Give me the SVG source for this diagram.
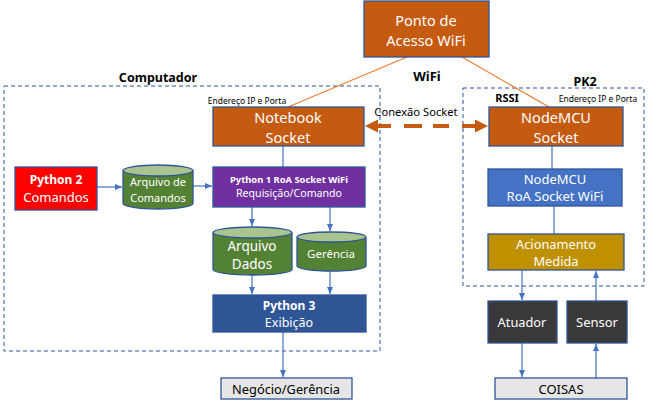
<svg xmlns="http://www.w3.org/2000/svg" width="648" height="404" viewBox="0 0 648 404">
<style>
text{font-family:"Noto Sans","Open Sans","DejaVu Sans",sans-serif;text-anchor:middle;dominant-baseline:central}
.w{fill:#fff}
.k{fill:#000}
.b{font-weight:bold}
.box{stroke:#2F5597;stroke-width:1.3}
.dash{fill:none;stroke:#2F5597;stroke-width:1;stroke-dasharray:4 3}
.conn{fill:none;stroke:#4472C4;stroke-width:1.2}
.ol{fill:none;stroke:#ED7D31;stroke-width:1.2}
.od{stroke:#C55A11;stroke-width:4}
</style>
<defs>
<marker id="ah" markerWidth="8" markerHeight="8" refX="7" refY="4" orient="auto" markerUnits="userSpaceOnUse">
<path d="M0,1 L7,4 L0,7 Z" fill="#4472C4"/>
</marker>
</defs>
<rect width="648" height="404" fill="#fff"/>

<g id="computador">
<rect class="dash" x="4" y="86" width="376" height="265"/>
<text class="b" x="158" y="77" font-size="12.5">Computador</text>
</g>
<g id="pk2">
<rect class="dash" x="463" y="88" width="181" height="198"/>
<text class="b" x="585" y="81" font-size="12.5">PK2</text>
</g>

<g id="connectors">
<line class="ol" x1="407" y1="57" x2="288" y2="107"/>
<line class="ol" x1="462" y1="57" x2="549" y2="107"/>
<line class="od" x1="375" y1="126" x2="391" y2="126"/>
<line class="od" x1="404" y1="126" x2="422" y2="126"/>
<line class="od" x1="433" y1="126" x2="449" y2="126"/>
<line class="od" x1="462" y1="126" x2="478" y2="126"/>
<path d="M365,126 L378,119.5 L378,132.5 Z" fill="#C55A11"/>
<path d="M488,126 L475,119.5 L475,132.5 Z" fill="#C55A11"/>
<line class="conn" x1="283" y1="146" x2="283" y2="167"/>
<line class="conn" x1="97" y1="187" x2="122" y2="187" marker-end="url(#ah)"/>
<line class="conn" x1="193" y1="186" x2="212" y2="186" marker-end="url(#ah)"/>
<line class="conn" x1="252" y1="207" x2="252" y2="226" marker-end="url(#ah)"/>
<line class="conn" x1="330" y1="207" x2="330" y2="231" marker-end="url(#ah)"/>
<line class="conn" x1="252" y1="275" x2="252" y2="294" marker-end="url(#ah)"/>
<line class="conn" x1="330" y1="271" x2="330" y2="294" marker-end="url(#ah)"/>
<line class="conn" x1="283" y1="332" x2="283" y2="377" marker-end="url(#ah)"/>
<line class="conn" x1="552" y1="146" x2="552" y2="169"/>
<line class="conn" x1="554" y1="206" x2="554" y2="234"/>
<line class="conn" x1="522" y1="270" x2="522" y2="300" marker-end="url(#ah)"/>
<line class="conn" x1="596" y1="301" x2="596" y2="271" marker-end="url(#ah)"/>
<line class="conn" x1="522" y1="343" x2="522" y2="377" marker-end="url(#ah)"/>
<line class="conn" x1="596" y1="378" x2="596" y2="344" marker-end="url(#ah)"/>
</g>

<g id="labels">
<text class="b" x="427" y="76" font-size="13">WiFi</text>
<text x="247" y="100" font-size="8.5">Endereço IP e Porta</text>
<text x="598" y="98" font-size="8.5">Endereço IP e Porta</text>
<text class="b" x="507" y="97" font-size="11">RSSI</text>
<text x="416" y="111" font-size="11.2">Conexão Socket</text>
</g>

<g id="ap">
<rect class="box" x="364" y="1" width="125" height="56" fill="#C55A11"/>
<text class="w" x="426" y="20" font-size="14.5">Ponto de</text>
<text class="w" x="426" y="40" font-size="14.5">Acesso WiFi</text>
</g>

<g id="notebook">
<rect class="box" x="213" y="107" width="151" height="39" fill="#C55A11"/>
<text class="w" x="288" y="117" font-size="14.5">Notebook</text>
<text class="w" x="288" y="137" font-size="14.5">Socket</text>
</g>

<g id="python2">
<rect class="box" x="15" y="167" width="82" height="43" fill="#FF0000"/>
<text class="w b" x="56" y="179" font-size="12">Python 2</text>
<text class="w" x="56" y="197" font-size="13">Comandos</text>
</g>

<g id="arquivo-comandos">
<path class="box" d="M123,170.5 L123,203.5 A35,5.5 0 0 0 193,203.5 L193,170.5" fill="#548235"/>
<ellipse class="box" cx="158" cy="170.5" rx="35" ry="5.5" fill="#A9C48F"/>
<text class="w" x="158" y="181" font-size="11">Arquivo de</text>
<text class="w" x="158" y="197" font-size="11">Comandos</text>
</g>

<g id="python1">
<rect class="box" x="213" y="167" width="152" height="40" fill="#7030A0"/>
<text class="w b" x="289" y="179" font-size="9.4">Python 1 RoA Socket WiFi</text>
<text class="w" x="289" y="193" font-size="10.6">Requisição/Comando</text>
</g>

<g id="arquivo-dados">
<path class="box" d="M213,232.5 L213,269.5 A39.5,5.5 0 0 0 292,269.5 L292,232.5" fill="#548235"/>
<ellipse class="box" cx="252.5" cy="232.5" rx="39.5" ry="5.5" fill="#A9C48F"/>
<text class="w" x="252" y="246" font-size="13.5">Arquivo</text>
<text class="w" x="252" y="264" font-size="13.5">Dados</text>
</g>

<g id="gerencia">
<path class="box" d="M297,237 L297,266 A34.5,5 0 0 0 366,266 L366,237" fill="#548235"/>
<ellipse class="box" cx="331.5" cy="237" rx="34.5" ry="5" fill="#A9C48F"/>
<text class="w" x="331" y="253" font-size="11.5">Gerência</text>
</g>

<g id="python3">
<rect class="box" x="213" y="295" width="153" height="37" fill="#2F5597"/>
<text class="w b" x="289" y="305" font-size="12">Python 3</text>
<text class="w" x="289" y="322" font-size="12.5">Exibição</text>
</g>

<g id="negocio">
<rect class="box" x="221" y="378" width="131" height="21" fill="#E7E6E6"/>
<text class="k" x="286" y="389" font-size="12.8">Negócio/Gerência</text>
</g>

<g id="nodemcu-socket">
<rect class="box" x="489" y="107" width="134" height="39" fill="#C55A11"/>
<text class="w" x="556" y="117" font-size="14.5">NodeMCU</text>
<text class="w" x="556" y="137" font-size="14.5">Socket</text>
</g>

<g id="nodemcu-roa">
<rect class="box" x="488" y="169" width="134" height="37" fill="#4472C4"/>
<text class="w" x="555" y="179" font-size="13">NodeMCU</text>
<text class="w" x="555" y="196" font-size="13">RoA Socket WiFi</text>
</g>

<g id="acionamento">
<rect class="box" x="488" y="234" width="136" height="36" fill="#BF9000"/>
<text class="w" x="556" y="244" font-size="12.8">Acionamento</text>
<text class="w" x="556" y="261" font-size="12.8">Medida</text>
</g>

<g id="atuador">
<rect class="box" x="488" y="301" width="69" height="42" fill="#3A3838"/>
<text class="w" x="522" y="322" font-size="12.8">Atuador</text>
</g>

<g id="sensor">
<rect class="box" x="567" y="301" width="60" height="42" fill="#3A3838"/>
<text class="w" x="597" y="322" font-size="13">Sensor</text>
</g>

<g id="coisas">
<rect class="box" x="495" y="378" width="132" height="21" fill="#E7E6E6"/>
<text class="k" x="561" y="389" font-size="13">COISAS</text>
</g>
</svg>
